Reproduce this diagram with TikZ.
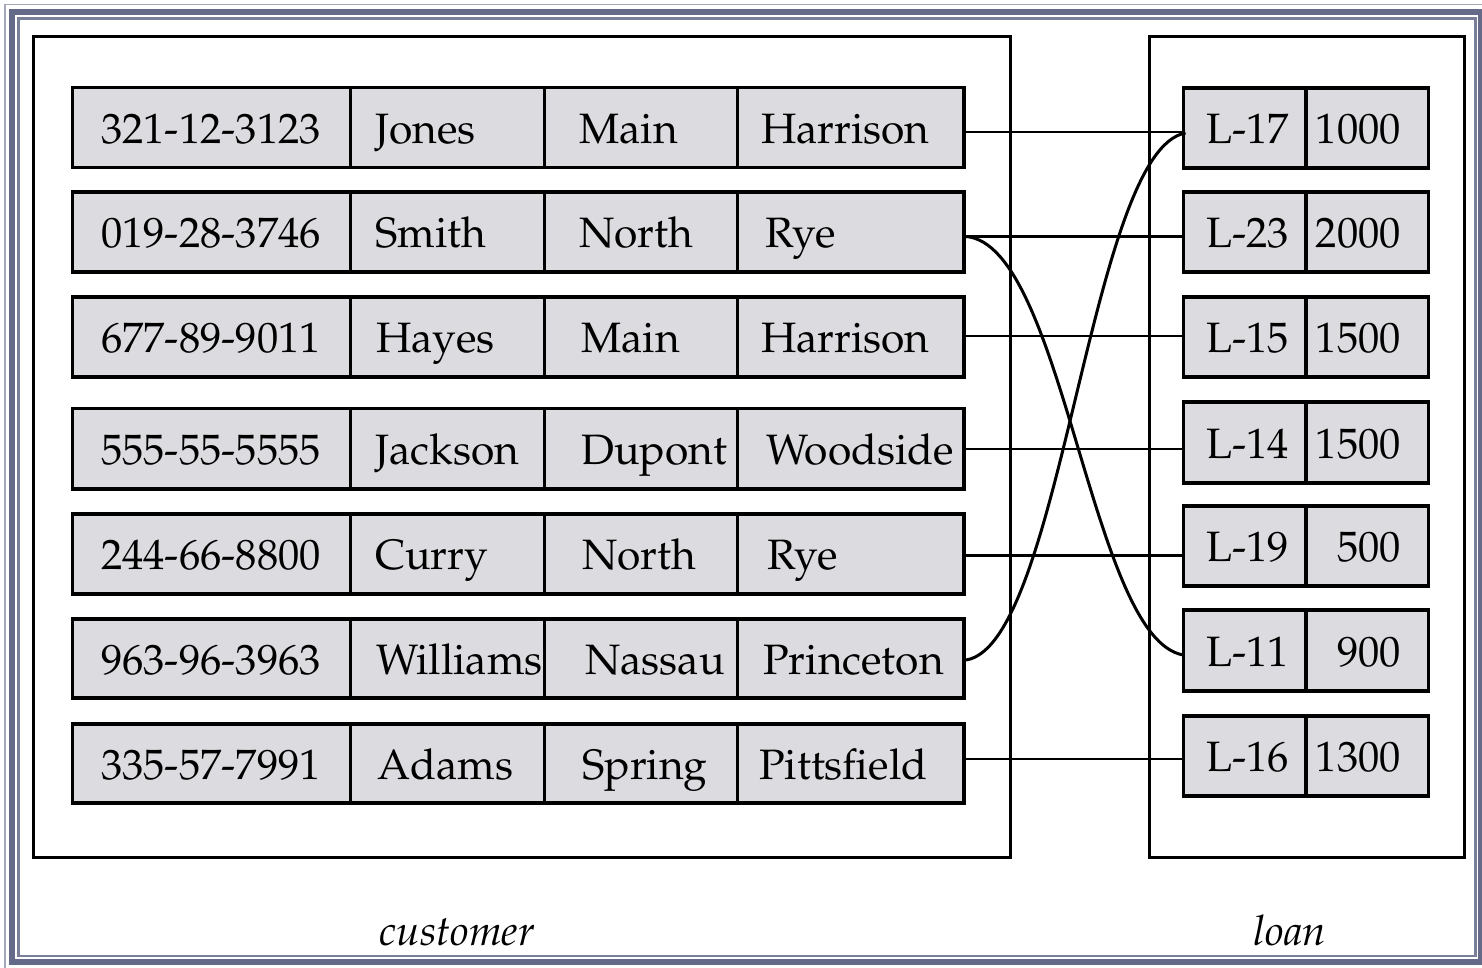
\documentclass[tikz,border=0pt]{standalone}
\usepackage[T1]{fontenc}
\usepackage{mathpazo}
\usetikzlibrary{calc}
\definecolor{frameA}{HTML}{646A88}
\definecolor{frameB}{HTML}{7A7F99}
\definecolor{frameC}{HTML}{A3A7BB}
\definecolor{cellfill}{HTML}{DCDBDF}
\tikzset{
  rowbox/.style={draw=black, line width=3.4pt, fill=cellfill, inner sep=0pt, outer sep=0pt},
  divider/.style={line width=3pt},
  celltxt/.style={anchor=base west, inner sep=0pt, font=\fontsize{42.5}{42.5}\selectfont},
  amttxt/.style={anchor=base east, inner sep=0pt, font=\fontsize{42.5}{42.5}\selectfont},
  link/.style={line width=2.3pt},
  curvelink/.style={line width=3pt},
  caption/.style={anchor=base, inner sep=0pt, font=\fontsize{42}{42}\selectfont\itshape},
}
\begin{document}
\begin{tikzpicture}[x=1pt,y=-1pt]
\useasboundingbox (0,0) rectangle (1482,967);
% frame
\draw[frameC, line width=1.5pt] (5,4.5) rectangle (1492,978);
\draw[frameA, line width=6pt] (12,12) rectangle (1481,962);
\draw[frameB, line width=2.5pt] (18.5,18.5) rectangle (1475.5,956);
% outer boxes
\node[draw, line width=3.4pt, minimum width=977.5pt, minimum height=821pt, inner sep=0pt, anchor=north west] (cust) at (31.5,35) {};
\node[draw, line width=3.4pt, minimum width=315pt, minimum height=821pt, inner sep=0pt, anchor=north west] (loanbox) at (1148,35) {};
% customer rows: top, bottom
\foreach \i/\t/\b in {1/87.5/167.5, 2/192/272, 3/297/377, 4/408.5/489, 5/514/594, 6/619/698, 7/724/803}{
  \node[rowbox, anchor=north west, minimum width=891.5pt, minimum height={\b-\t}] (c\i) at (72.5,\t) {};
  \draw[divider] (350.5,\t) -- (350.5,\b);
  \draw[divider] (544.5,\t) -- (544.5,\b);
  \draw[divider] (737,\t) -- (737,\b);
}
% loan rows
\foreach \i/\t/\b in {1/88/168, 2/192/272, 3/297/377, 4/402/483, 5/506/586, 6/610/691, 7/716/796}{
  \node[rowbox, line width=3.8pt, anchor=north west, minimum width=245pt, minimum height={\b-\t}] (l\i) at (1183.5,\t) {};
  \draw[divider, line width=3.2pt] (1306,\t) -- (1306,\b);
}
% customer texts
\foreach \y/\a/\b/\xb/\c/\xc/\d/\xd in {
  143/321-12-3123/Jones/375/Main/579/Harrison/761,
  247.5/019-28-3746/Smith/375/North/579/Rye/765,
  352.5/677-89-9011/Hayes/376/Main/581/Harrison/761,
  464/555-55-5555/Jackson/375/Dupont/581/Woodside/766,
  569.5/244-66-8800/Curry/375/North/582/Rye/767,
  674/963-96-3963/Williams/376/Nassau/585/Princeton/763,
  779/335-57-7991/Adams/377/Spring/582/Pittsfield/759}{
  \node[celltxt] at (101,\y) {\a};
  \node[celltxt] at (\xb,\y) {\b};
  \node[celltxt] at (\xc,\y) {\c};
  \node[celltxt] at (\xd,\y) {\d};
}
% loan texts
\foreach \y/\a/\b in {143.5/L-17/1000, 247.5/L-23/2000, 352.5/L-15/1500, 458/L-14/1500, 561.5/L-19/500, 666/L-11/900, 771.5/L-16/1300}{
  \node[celltxt] at (1206,\y) {\a};
  \node[amttxt] at (1401,\y) {\b};
}
% connectors
\draw[link] ([yshift=-4.5pt]c1.east) -- ([yshift=-4.5pt]c1.east -| l1.west);
\draw[curvelink] ([xshift=2pt,yshift=-4.5pt]c2.east) -- ([yshift=-4.5pt]c2.east -| l2.west);
\draw[link] ([yshift=1pt]c3.east) -- ([yshift=1pt]c3.east -| l3.west);
\draw[link] (c4.east) -- (c4.east -| l4.west);
\draw[curvelink] ([yshift=-1pt]c5.east) -- ([yshift=-1pt]c5.east -| l5.west);
\draw[link] ([yshift=4.5pt]c7.east) -- ([yshift=4.5pt]c7.east -| l7.west);
\draw[curvelink] ([xshift=2pt,yshift=-4.5pt]c2.east) .. controls +(98,8) and +(-93,-15) .. ([yshift=-4.5pt]l6.west);
\draw[curvelink] ([xshift=2pt,yshift=-1.5pt]c6.east) .. controls +(96,-15) and +(-96,17) .. ([xshift=2pt,yshift=-5pt]l1.west);
% captions
\node[caption] (custlabel) at (457,945) {customer};
\node[caption] (loanlabel) at (1290,945) {loan};
\end{tikzpicture}
\end{document}
